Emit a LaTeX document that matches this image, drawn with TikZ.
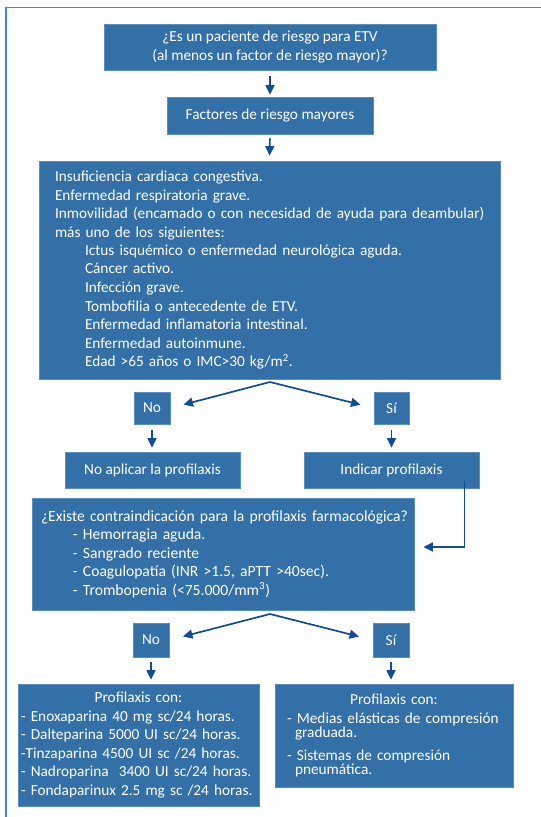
\documentclass[tikz,border=0pt]{standalone}
\usepackage{fontspec}
\setmainfont{Carlito}
\usetikzlibrary{arrows.meta}
\definecolor{boxblue}{HTML}{3470A8}
\definecolor{boxedge}{HTML}{5A8DC0}
\definecolor{arrowblue}{HTML}{114D95}
\definecolor{frameblue}{HTML}{4A84C0}
\newcommand{\sangria}[1]{\hspace*{#1}}
\tikzset{
  box/.style={draw=boxedge, line width=0.8pt, fill=boxblue, text=white,
    inner sep=0pt, font=\fontsize{15.3}{18.5}\selectfont},
  flow/.style={draw=arrowblue, line width=1.7pt, -{Triangle[width=9pt,length=9.5pt]}}
}
\begin{document}
\begin{tikzpicture}[x=1pt,y=-1pt]
\useasboundingbox (0,0) rectangle (541,817);
\draw[frameblue, line width=1.8pt] (541,7.5) -- (6,7.5) -- (6,817);
% question boxes
\node[box, align=center, minimum width=332pt, minimum height=46pt] (riesgo) at (270,47)
  {¿Es un paciente de riesgo para ETV\\(al menos un factor de riesgo mayor)?};
\node[box, minimum width=206pt, minimum height=37pt] (mayores) at (270,115.5)
  {Factores de riesgo mayores};
\node[box, align=left, text width=429pt, inner xsep=16pt, minimum height=218pt] (factores) at (269.5,270)
  {Insuficiencia cardiaca congestiva.\\
   Enfermedad respiratoria grave.\\
   \mbox{Inmovilidad (encamado o con necesidad de ayuda para deambular)}\\
   más uno de los siguientes:\\
   \sangria{30pt}\mbox{Ictus isquémico o enfermedad neurológica aguda.}\\
   \sangria{30pt}Cáncer activo.\\
   \sangria{30pt}Infección grave.\\
   \sangria{30pt}Tombofilia o antecedente de ETV.\\
   \sangria{30pt}Enfermedad inflamatoria intestinal.\\
   \sangria{30pt}Enfermedad autoinmune.\\
   \sangria{30pt}Edad >65 años o IMC>30 kg/m\textsuperscript{2}.};
% first decision
\coordinate (split1) at (270,382);
\node[box, minimum width=36pt, minimum height=32pt] (no1) at (152,408) {No};
\node[box, minimum width=35pt, minimum height=32pt] (si1) at (391.5,408) {Sí};
\node[box, minimum width=175pt, minimum height=36pt] (noaplica) at (152.5,470) {No aplicar la profilaxis};
\node[box, minimum width=175pt, minimum height=36pt] (indicar) at (391.5,470) {Indicar profilaxis};
\node[box, align=left, text width=364pt, inner xsep=9pt, minimum height=112pt,
  font=\fontsize{15.6}{18.5}\selectfont] (contra) at (223,554)
  {\mbox{¿Existe contraindicación para la profilaxis farmacológica?}\\
   \sangria{32pt}- Hemorragia aguda.\\
   \sangria{32pt}- Sangrado reciente\\
   \sangria{32pt}\mbox{- Coagulopatía (INR >1.5, aPTT >40sec).}\\
   \sangria{32pt}- Trombopenia (<75.000/mm\textsuperscript{3})};
% second decision
\coordinate (split2) at (270,614);
\node[box, minimum width=36pt, minimum height=34pt] (no2) at (151,640) {No};
\node[box, minimum width=36pt, minimum height=34pt] (si2) at (391,640) {Sí};
\node[box, align=left, text width=235pt, inner xsep=3pt, minimum height=122pt] (farmaco) at (138.5,745)
  {\hfill Profilaxis con:\hfill\null\\
   \mbox{- Enoxaparina 40 mg sc/24 horas.}\\
   \mbox{- Dalteparina 5000 UI sc/24 horas.}\\
   \mbox{-Tinzaparina 4500 UI sc /24 horas.}\\
   \mbox{- Nadroparina\ \ 3400 UI sc/24 horas.}\\
   \mbox{- Fondaparinux 2.5 mg sc /24 horas.}};
\node[box, align=left, text width=214pt, inner xsep=12pt, minimum height=103pt,
  font=\fontsize{15.3}{14}\selectfont] (mecanica) at (394,735.5)
  {\hfill Profilaxis con:\hfill\null\\[5pt]
   \mbox{- Medias elásticas de compresión}\\
   \sangria{8pt}graduada.\\[9pt]
   \mbox{- Sistemas de compresión}\\
   \sangria{8pt}pneumática.};
% connectors
\draw[flow, shorten <=6pt, shorten >=2pt] (riesgo.south) -- (mayores.north);
\draw[flow, shorten <=4pt, shorten >=5pt] (mayores.south) -- (factores.north);
\draw[flow, shorten >=13.5pt] (split1) -- (no1.east);
\draw[flow, shorten >=13.5pt] (split1) -- (si1.west);
\draw[flow, shorten <=6pt, shorten >=4pt] (no1.south) -- (no1.south |- noaplica.north);
\draw[flow, shorten <=6pt, shorten >=4pt] (si1.south) -- (si1.south |- indicar.north);
\draw[flow] ([xshift=-15pt,yshift=7pt]indicar.south east) |- ([xshift=9pt,yshift=7pt]contra.east);
\draw[flow, shorten >=14pt] (split2) -- (no2.east);
\draw[flow, shorten >=14pt] (split2) -- (si2.west);
\draw[flow, shorten <=5pt, shorten >=4pt] (no2.south) -- (no2.south |- farmaco.north);
\draw[flow, shorten <=5pt, shorten >=4pt] (si2.south) -- (si2.south |- mecanica.north);
\end{tikzpicture}
\end{document}
